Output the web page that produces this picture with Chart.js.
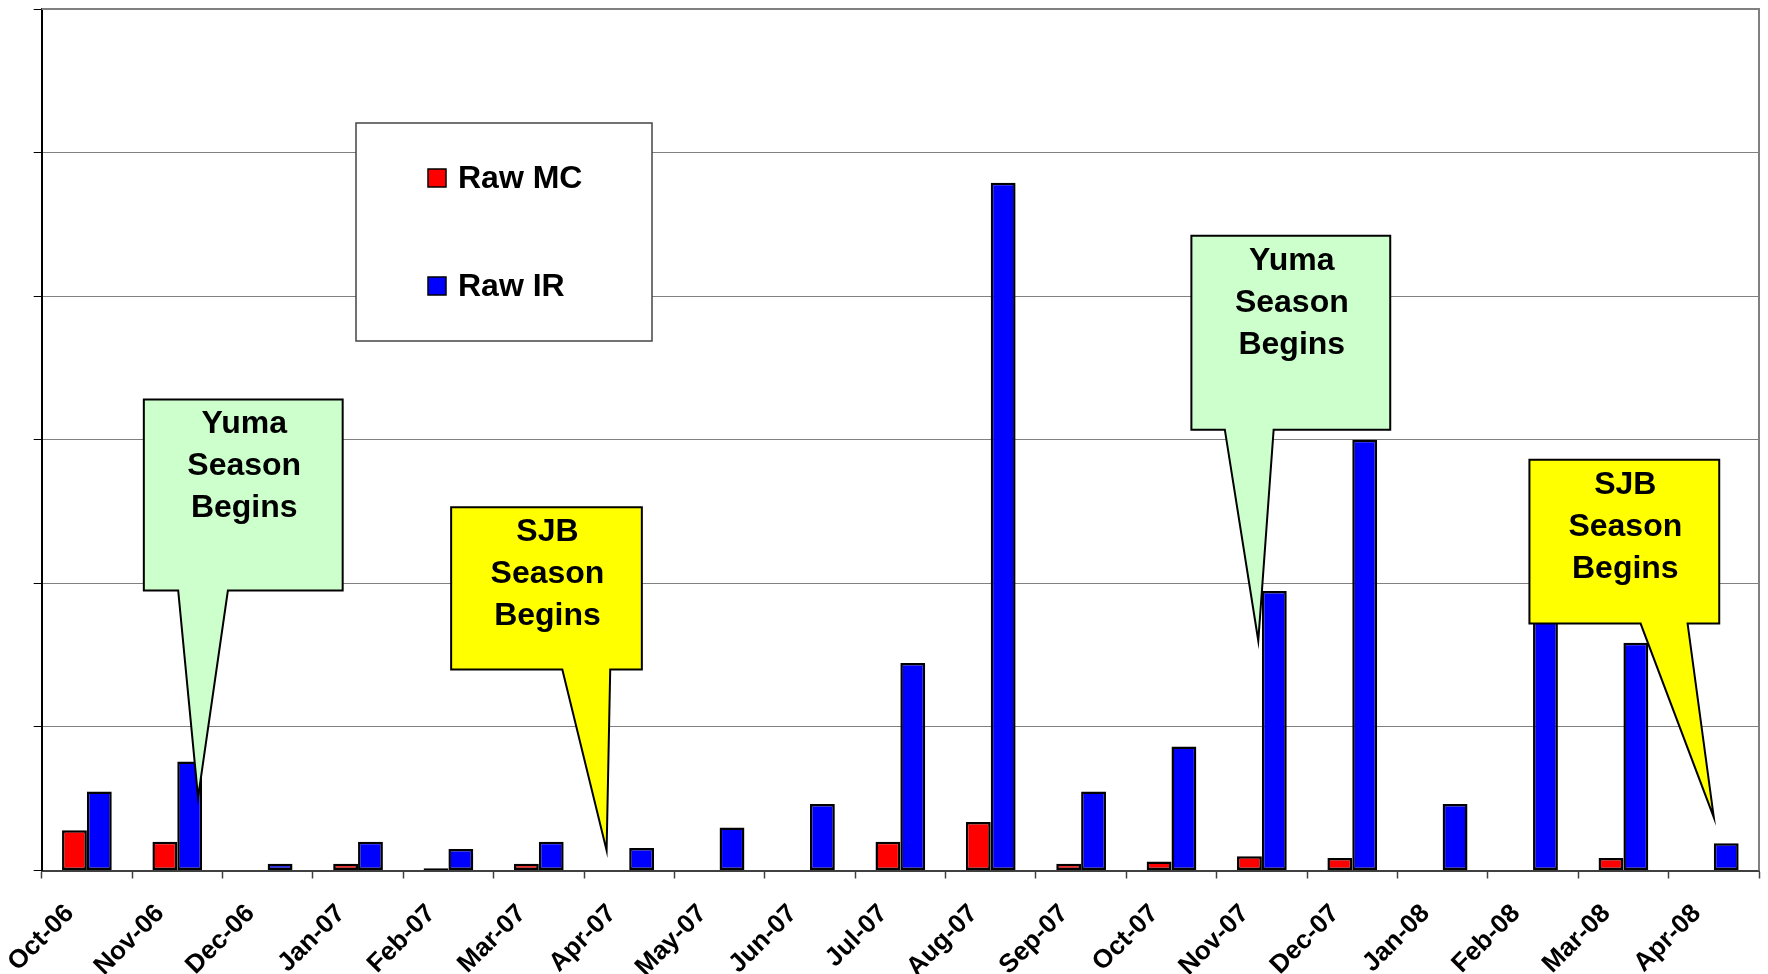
<!DOCTYPE html>
<html>
<head>
<meta charset="utf-8">
<script src="https://cdn.jsdelivr.net/npm/chart.js@4/dist/chart.umd.min.js"></script>
<style>
  body { margin: 0; background: #fff; }
  #wrap { width: 1768px; height: 974px; position: relative; }
</style>
</head>
<body>
<div id="wrap"><canvas id="chart"></canvas></div>
<script>
const months = ['Oct-06', 'Nov-06', 'Dec-06', 'Jan-07', 'Feb-07', 'Mar-07', 'Apr-07', 'May-07', 'Jun-07', 'Jul-07',
    'Aug-07', 'Sep-07', 'Oct-07', 'Nov-07', 'Dec-07', 'Jan-08', 'Feb-08', 'Mar-08', 'Apr-08'];
const rawMC = [0.28, 0.20, 0, 0.047, 0.015, 0.047, 0, 0, 0, 0.20,
    0.338, 0.047, 0.063, 0.10, 0.087, 0, 0, 0.087, 0];
const rawIR = [0.55, 0.76, 0.047, 0.20, 0.15, 0.20, 0.157, 0.30, 0.463, 1.445,
    4.79, 0.55, 0.864, 1.947, 3.0, 0.463, 2.1, 1.586, 0.189];
// y axis has gridlines but no printed values
const yMin = 0;
const yMax = 6;
const yStep = 1;

// callouts, placed in scale units (category index, y value)
const callouts = [
    { lines: ['Yuma', 'Season', 'Begins'], fill: '#ccffcc',
      box: [0.63, 2.83, 3.28, 1.95], tail: [1.01, 1.56], tip: [1.23, 0.51] },
    { lines: ['SJB', 'Season', 'Begins'], fill: '#ffff00',
      box: [4.03, 6.14, 2.53, 1.40], tail: [5.26, 5.79], tip: [5.75, 0.14] },
    { lines: ['Yuma', 'Season', 'Begins'], fill: '#ccffcc',
      box: [12.22, 14.42, 4.42, 3.07], tail: [12.59, 13.13], tip: [12.96, 1.60] },
    { lines: ['SJB', 'Season', 'Begins'], fill: '#ffff00',
      box: [15.96, 18.06, 2.86, 1.72], tail: [17.19, 17.71], tip: [18.0, 0.37] }
];

const FONT = '"Liberation Sans", Arial, sans-serif';

const overlay = {
    id: 'overlay',
    afterDatasetsDraw(chart) {
        const { ctx, chartArea, scales: { x, y } } = chart;
        ctx.save();

        // frame top + right
        ctx.strokeStyle = '#808080';
        ctx.lineWidth = 2;
        ctx.beginPath();
        ctx.moveTo(chartArea.left, chartArea.top);
        ctx.lineTo(chartArea.right, chartArea.top);
        ctx.lineTo(chartArea.right, chartArea.bottom);
        ctx.stroke();

        // legend box
        ctx.fillStyle = '#fff';
        ctx.strokeStyle = '#444';
        ctx.lineWidth = 1.5;
        ctx.fillRect(356, 123, 296, 218);
        ctx.strokeRect(356, 123, 296, 218);
        const items = chart.data.datasets;
        ctx.font = 'bold 32px ' + FONT;
        ctx.textBaseline = 'middle';
        ctx.textAlign = 'left';
        items.forEach((ds, i) => {
            const cy = 178 + i * 108;
            ctx.fillStyle = ds.backgroundColor;
            ctx.fillRect(428, cy - 9, 18, 18);
            ctx.strokeStyle = '#000';
            ctx.lineWidth = 1.5;
            ctx.strokeRect(428, cy - 9, 18, 18);
            ctx.fillStyle = '#000';
            ctx.fillText(ds.label, 458, cy + 1);
        });

        // callouts
        callouts.forEach(c => {
            const l = x.getPixelForValue(c.box[0]);
            const r = x.getPixelForValue(c.box[1]);
            const t = y.getPixelForValue(c.box[2]);
            const b = y.getPixelForValue(c.box[3]);
            const t0 = x.getPixelForValue(c.tail[0]);
            const t1 = x.getPixelForValue(c.tail[1]);
            const px = x.getPixelForValue(c.tip[0]);
            const py = y.getPixelForValue(c.tip[1]);
            ctx.beginPath();
            ctx.moveTo(l, t);
            ctx.lineTo(r, t);
            ctx.lineTo(r, b);
            ctx.lineTo(t1, b);
            ctx.lineTo(px, py);
            ctx.lineTo(t0, b);
            ctx.lineTo(l, b);
            ctx.closePath();
            ctx.fillStyle = c.fill;
            ctx.fill();
            ctx.strokeStyle = '#000';
            ctx.lineWidth = 2;
            ctx.lineJoin = 'miter';
            ctx.stroke();

            ctx.fillStyle = '#000';
            ctx.font = 'bold 32px ' + FONT;
            ctx.textAlign = 'center';
            ctx.textBaseline = 'middle';
            c.lines.forEach((txt, i) => {
                ctx.fillText(txt, (l + r) / 2 + 1, t + 25 + i * 42);
            });
        });
        ctx.restore();
    }
};

new Chart(document.getElementById('chart'), {
    type: 'bar',
    data: {
        labels: months,
        datasets: [
            { label: 'Raw MC', data: rawMC, backgroundColor: '#ff0000' },
            { label: 'Raw IR', data: rawIR, backgroundColor: '#0000ff' }
        ]
    },
    options: {
        responsive: true,
        maintainAspectRatio: false,
        animation: false,
        events: [],
        layout: { padding: { left: 33.7, right: 9, top: 9, bottom: 0 } },
        datasets: {
            bar: {
                borderColor: '#000',
                borderWidth: 2.5,
                borderSkipped: false,
                categoryPercentage: 0.55,
                barPercentage: 1.0
            }
        },
        plugins: {
            legend: { display: false },
            tooltip: { enabled: false }
        },
        scales: {
            x: {
                offset: true,
                grid: {
                    offset: true,
                    drawOnChartArea: false,
                    tickLength: 8,
                    tickColor: '#404040',
                    tickWidth: 1.5
                },
                border: { color: '#404040', width: 2 },
                ticks: {
                    autoSkip: false,
                    minRotation: 45,
                    maxRotation: 45,
                    padding: 20,
                    labelOffset: -17,
                    color: '#000',
                    font: { family: FONT, size: 26, weight: 'bold' }
                },
                afterFit: (scale) => { scale.height = 103.5; }
            },
            y: {
                min: yMin,
                max: yMax,
                ticks: { display: false, stepSize: yStep },
                grid: { color: '#808080', lineWidth: 1, tickLength: 8, tickColor: '#000' },
                border: { color: '#000', width: 2 },
                afterFit: (scale) => { scale.width = 8; }
            }
        }
    },
    plugins: [overlay]
});
</script>
</body>
</html>
